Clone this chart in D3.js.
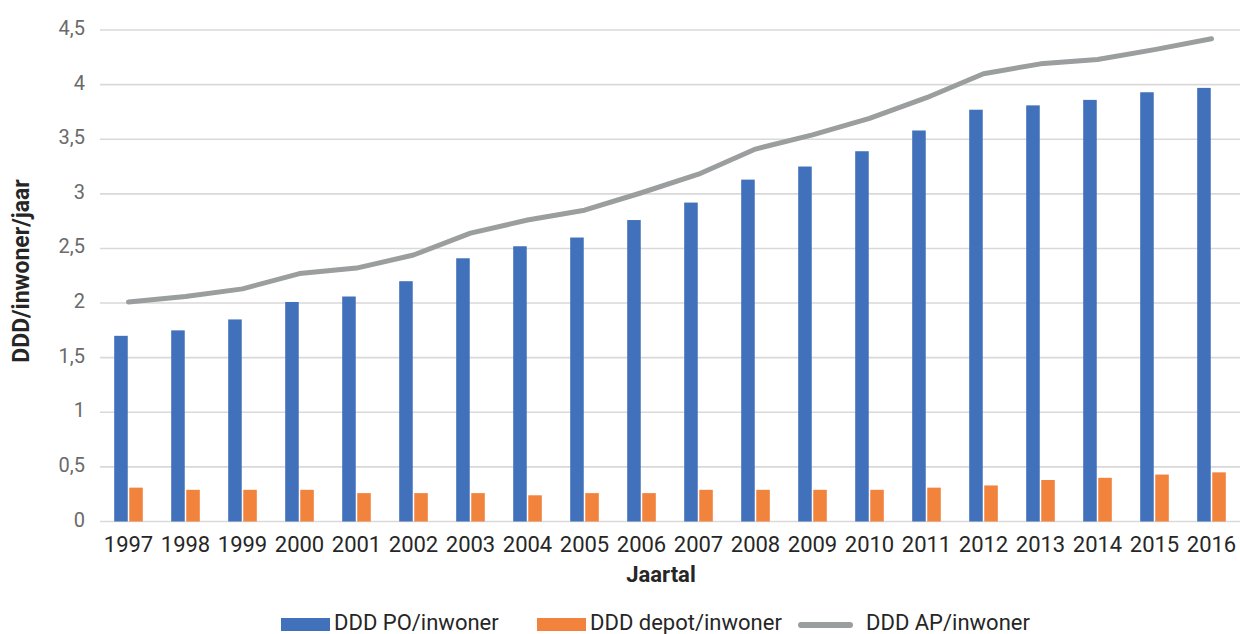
<!DOCTYPE html>
<html>
<head>
<meta charset="utf-8">
<script src="https://cdn.jsdelivr.net/npm/d3@7"></script>
<style>
  html, body { margin: 0; padding: 0; background: #fff; }
  svg { display: block; font-family: Roboto, "Noto Sans", sans-serif; }
</style>
</head>
<body>
<svg id="chart" width="1240" height="634"></svg>
<script>
const years = ["1997","1998","1999","2000","2001","2002","2003","2004","2005","2006","2007","2008","2009","2010","2011","2012","2013","2014","2015","2016"];
const poValues    = [1.70,1.75,1.85,2.01,2.06,2.20,2.41,2.52,2.60,2.76,2.92,3.13,3.25,3.39,3.58,3.77,3.81,3.86,3.93,3.97];
const depotValues = [0.31,0.29,0.29,0.29,0.26,0.26,0.26,0.24,0.26,0.26,0.29,0.29,0.29,0.29,0.31,0.33,0.38,0.40,0.43,0.45];
const apValues    = [2.01,2.06,2.13,2.27,2.32,2.44,2.64,2.76,2.85,3.01,3.18,3.41,3.54,3.69,3.88,4.10,4.19,4.23,4.32,4.42];
const yTicks = [0,0.5,1,1.5,2,2.5,3,3.5,4,4.5];
const seriesNames = ["DDD PO/inwoner","DDD depot/inwoner","DDD AP/inwoner"];
const colors = ["#4171BA","#F2833D","#9B9E9E"];

const svg = d3.select("#chart");
const plotLeft = 100, plotRight = 1240, plotTop = 30, plotBottom = 521.5;

const x0 = d3.scaleBand().domain(years).range([plotLeft, plotRight]).padding(0);
const groupW = 28.6;
const x1 = d3.scaleBand().domain(["po","depot"])
  .range([x0.bandwidth()/2 - groupW/2, x0.bandwidth()/2 + groupW/2]).paddingInner(0.1);
const y = d3.scaleLinear().domain([0, 4.5]).range([plotBottom, plotTop]);

// gridlines
svg.append("g").selectAll("line").data(yTicks).join("line")
  .attr("x1", plotLeft).attr("x2", plotRight)
  .attr("y1", d => y(d)).attr("y2", d => y(d))
  .attr("stroke", "#D9D9D9").attr("stroke-width", 1.6);

// y tick labels
const fmt = d => String(d).replace(".", ",");
svg.append("g").selectAll("text").data(yTicks).join("text")
  .attr("x", 85).attr("y", d => y(d) - 2)
  .attr("text-anchor", "end").attr("dominant-baseline", "central")
  .attr("font-size", 20).attr("fill", "#6A6A6A")
  .text(fmt);

// bars
const gBars = svg.append("g");
gBars.selectAll("rect.po").data(years).join("rect").attr("class","po")
  .attr("x", d => x0(d) + x1("po")).attr("width", x1.bandwidth())
  .attr("y", (d,i) => y(poValues[i])).attr("height", (d,i) => y(0) - y(poValues[i]))
  .attr("fill", colors[0]);
gBars.selectAll("rect.depot").data(years).join("rect").attr("class","depot")
  .attr("x", d => x0(d) + x1("depot")).attr("width", x1.bandwidth())
  .attr("y", (d,i) => y(depotValues[i])).attr("height", (d,i) => y(0) - y(depotValues[i]))
  .attr("fill", colors[1]);

// line
const line = d3.line()
  .x((d,i) => x0(years[i]) + x0.bandwidth()/2)
  .y(d => y(d));
svg.append("path").datum(apValues)
  .attr("d", line).attr("fill", "none")
  .attr("stroke", colors[2]).attr("stroke-width", 5)
  .attr("stroke-linecap", "round").attr("stroke-linejoin", "round");

// x axis labels
svg.append("g").selectAll("text").data(years).join("text")
  .attr("x", d => x0(d) + x0.bandwidth()/2).attr("y", 552)
  .attr("text-anchor", "middle").attr("font-size", 22).attr("fill", "#262626")
  .text(d => d);

// axis titles
svg.append("text").attr("x", 661).attr("y", 582)
  .attr("text-anchor", "middle").attr("font-size", 22).attr("font-weight", "bold")
  .attr("fill", "#262626").text("Jaartal");
svg.append("text").attr("transform", "translate(29,271) rotate(-90)")
  .attr("text-anchor", "middle").attr("font-size", 23).attr("font-weight", "bold")
  .attr("fill", "#262626").text("DDD/inwoner/jaar");

// legend
const legendItems = [
  {name: seriesNames[0], type: "rect", color: colors[0], x: 281},
  {name: seriesNames[1], type: "rect", color: colors[1], x: 537},
  {name: seriesNames[2], type: "line", color: colors[2], x: 798}
];
const lg = svg.append("g");
legendItems.forEach(it => {
  if (it.type === "rect") {
    lg.append("rect").attr("x", it.x).attr("y", 618).attr("width", 49).attr("height", 13).attr("fill", it.color);
  } else {
    lg.append("line").attr("x1", it.x + 3).attr("x2", it.x + 52).attr("y1", 625).attr("y2", 625)
      .attr("stroke", it.color).attr("stroke-width", 6).attr("stroke-linecap", "round");
  }
  lg.append("text").attr("x", it.type === "rect" ? it.x + 53 : it.x + 68).attr("y", 630)
    .attr("font-size", 22).attr("fill", "#262626").text(it.name);
});
</script>
</body>
</html>
